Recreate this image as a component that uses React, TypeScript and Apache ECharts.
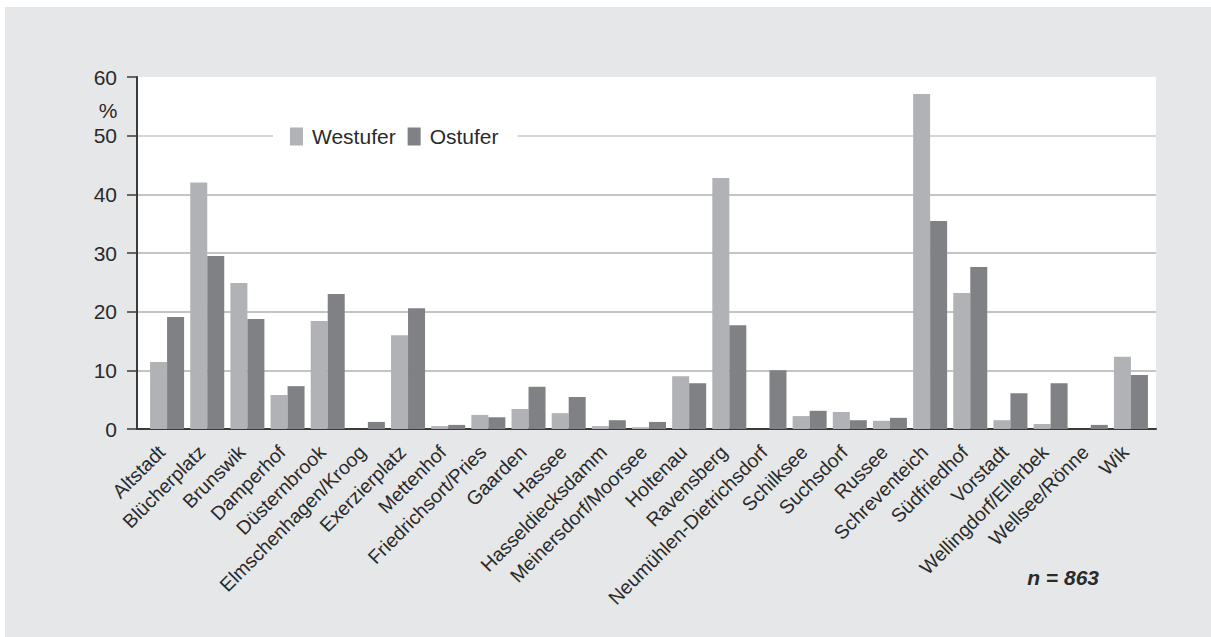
import React, { useEffect, useRef } from "react";
import * as echarts from "echarts";

const categories = [
  "Altstadt", "Blücherplatz", "Brunswik", "Damperhof", "Düsternbrook",
  "Elmschenhagen/Kroog", "Exerzierplatz", "Mettenhof", "Friedrichsort/Pries",
  "Gaarden", "Hassee", "Hasseldiecksdamm", "Meinersdorf/Moorsee", "Holtenau",
  "Ravensberg", "Neumühlen-Dietrichsdorf", "Schilksee", "Suchsdorf", "Russee",
  "Schreventeich", "Südfriedhof", "Vorstadt", "Wellingdorf/Ellerbek",
  "Wellsee/Rönne", "Wik",
];

const westufer = [
  11.4, 42.0, 24.9, 5.8, 18.4, 0, 16.0, 0.5, 2.4, 3.4, 2.7, 0.5, 0.3, 9.0,
  42.8, 0, 2.2, 2.9, 1.4, 57.1, 23.2, 1.5, 0.85, 0, 12.3,
];

const ostufer = [
  19.1, 29.5, 18.75, 7.3, 23.0, 1.2, 20.6, 0.7, 2.0, 7.2, 5.45, 1.5, 1.2, 7.8,
  17.7, 10.0, 3.1, 1.5, 1.9, 35.45, 27.6, 6.1, 7.8, 0.7, 9.2,
];

const seriesNames = ["Westufer", "Ostufer"];
const yTicks = { min: 0, max: 60, interval: 10 };
const unitLabel = "%";
const sampleNote = "n = 863";

const FONT = "'Liberation Sans', Arial, Helvetica, sans-serif";
const TEXT = "#2a2a2a";
const AXIS = "#3a3a3a";

export default function App() {
  const ref = useRef<HTMLDivElement>(null);

  useEffect(() => {
    if (!ref.current) return;
    const chart = echarts.init(ref.current, undefined, { renderer: "svg" });
    const gridColors = ["#b0b0b0", "#b0b0b0", "#b0b0b0", "#b0b0b0", "#b0b0b0", "#c8c8c8", "rgba(0,0,0,0)"];
    chart.setOption({
      animation: false,
      backgroundColor: "#ffffff",
      textStyle: { fontFamily: FONT },
      graphic: [
        {
          type: "rect",
          z: -100,
          shape: { x: 5, y: 7, width: 1206, height: 630 },
          style: { fill: "#e6e7e8" },
          silent: true,
        },
        {
          type: "text",
          x: 108,
          y: 110,
          style: {
            text: unitLabel,
            fill: TEXT,
            font: `21px ${FONT}`,
            textAlign: "center",
            textVerticalAlign: "middle",
          },
        },
        {
          type: "text",
          x: 1099,
          y: 577,
          style: {
            text: sampleNote,
            fill: TEXT,
            font: `italic bold 21px ${FONT}`,
            textAlign: "right",
            textVerticalAlign: "middle",
          },
        },
      ],
      grid: [
        {
          left: 137,
          top: 77,
          width: 1019,
          height: 352,
          show: true,
          backgroundColor: "#ffffff",
          borderWidth: 0,
        },
        {
          left: 147,
          top: 77,
          width: 1004,
          height: 352,
        },
      ],
      legend: {
        data: seriesNames,
        left: 273,
        top: 122,
        padding: [4, 19, 4, 17],
        backgroundColor: "#ffffff",
        itemWidth: 13,
        itemHeight: 18,
        itemGap: 12,
        icon: "rect",
        textStyle: { fontSize: 21, color: TEXT, fontFamily: FONT, padding: [0, 0, 0, 4] },
      },
      xAxis: [
        {
          gridIndex: 0,
          type: "value",
          min: 0,
          max: 1,
          axisLine: { show: true, lineStyle: { color: AXIS, width: 2 } },
          axisTick: { show: false },
          axisLabel: { show: false },
          splitLine: { show: false },
        },
        {
          gridIndex: 1,
          type: "category",
          data: categories,
          axisLine: { show: false },
          axisTick: { show: false },
          axisLabel: {
            interval: 0,
            rotate: 45,
            margin: 14,
            fontSize: 19.5,
            color: TEXT,
            fontFamily: FONT,
            padding: [0, 8, 0, 0],
          },
        },
      ],
      yAxis: [
        {
          gridIndex: 0,
          type: "value",
          min: yTicks.min,
          max: yTicks.max,
          interval: yTicks.interval,
          axisLine: { show: true, lineStyle: { color: AXIS, width: 2 } },
          axisTick: { show: true, length: 10, lineStyle: { color: AXIS, width: 1.5 } },
          axisLabel: { margin: 20, fontSize: 21, color: TEXT, fontFamily: FONT },
          splitLine: { show: true, lineStyle: { color: gridColors, width: 1.5 } },
        },
        {
          gridIndex: 1,
          type: "value",
          min: yTicks.min,
          max: yTicks.max,
          interval: yTicks.interval,
          show: false,
          splitLine: { show: false },
        },
      ],
      series: [
        {
          name: seriesNames[0],
          type: "bar",
          xAxisIndex: 1,
          yAxisIndex: 1,
          data: westufer,
          barWidth: 17,
          barGap: "0%",
          itemStyle: { color: "#b1b2b5" },
        },
        {
          name: seriesNames[1],
          type: "bar",
          xAxisIndex: 1,
          yAxisIndex: 1,
          data: ostufer,
          barWidth: 17,
          barGap: "0%",
          itemStyle: { color: "#808184" },
        },
      ],
    });
    return () => chart.dispose();
  }, []);

  return (
    <div
      ref={ref}
      style={{ position: "fixed", left: 0, top: 0, width: 1211, height: 637 }}
    />
  );
}
